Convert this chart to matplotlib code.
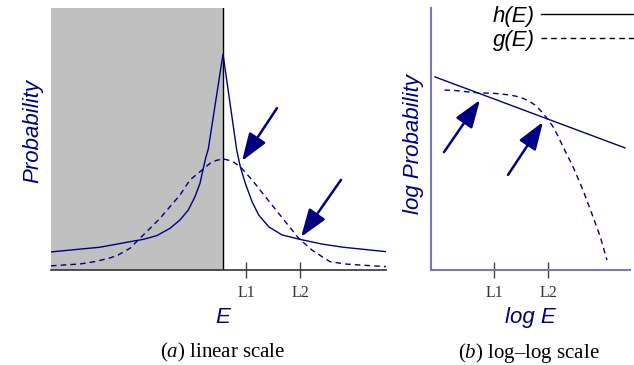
import matplotlib
matplotlib.use('Agg')
import matplotlib.pyplot as plt
from matplotlib.lines import Line2D

plt.rcParams['font.family'] = ['Liberation Sans', 'DejaVu Sans']
plt.rcParams['mathtext.fontset'] = 'custom'
plt.rcParams['mathtext.rm'] = 'Liberation Serif'
plt.rcParams['mathtext.it'] = 'Liberation Serif:italic'

# (a) linear scale: h(E) sharp peak, g(E) bell shape
E_h = [-3.44, -2.46, -1.86, -1.594, -1.326, -1.06, -0.86, -0.694, -0.56, -0.46, -0.394, -0.34,
       -0.294, 0.0, 0.274, 0.346, 0.446, 0.58, 0.714, 0.914, 1.18, 1.514, 1.98, 2.4, 3.26]
P_h = [0.069, 0.087, 0.108, 0.117, 0.131, 0.159, 0.191, 0.229, 0.280, 0.331, 0.388, 0.432,
       0.462, 0.824, 0.458, 0.394, 0.331, 0.261, 0.210, 0.165, 0.134, 0.118, 0.099, 0.087, 0.070]

E_g = [-3.44, -2.86, -2.56, -2.26, -2.10, -1.86, -1.66, -1.46, -1.26, -1.06, -0.86, -0.66, -0.46,
       -0.26, -0.14, 0.0, 0.18, 0.346, 0.58, 0.846, 1.114, 1.38, 1.514, 1.78, 1.98, 2.14, 2.44,
       2.74, 3.26]
P_g = [0.016, 0.023, 0.032, 0.046, 0.057, 0.083, 0.121, 0.159, 0.197, 0.242, 0.286, 0.344, 0.375,
       0.407, 0.418, 0.424, 0.416, 0.394, 0.344, 0.280, 0.216, 0.153, 0.121, 0.076, 0.051, 0.032,
       0.023, 0.019, 0.013]

# (b) log-log scale
logE_h = [0.08, 3.88]
logP_h = [0.737, 0.466]
logE_g = [0.27, 0.48, 0.78, 0.98, 1.28, 1.58, 1.78, 1.94, 2.08, 2.20, 2.32, 2.44, 2.54, 2.64,
          2.84, 3.04, 3.24, 3.38, 3.52]
logP_g = [0.687, 0.685, 0.679, 0.676, 0.674, 0.668, 0.660, 0.647, 0.630, 0.607, 0.579, 0.547,
          0.511, 0.471, 0.394, 0.305, 0.203, 0.130, 0.038]

ticks_a = [0.46, 1.54]
ticks_b = [1.26, 2.34]
tick_labels = ['L1', 'L2']

navy = '#000080'
dash = (0, (4, 3))

fig = plt.figure(figsize=(6.34, 3.65), dpi=100)
ax1 = fig.add_axes([51/634, 1-270/365, 335/634, 262/365])
ax2 = fig.add_axes([431/634, 1-270/365, 199/634, 262/365])

arrow = dict(arrowstyle='-|>,head_length=0.85,head_width=0.3', color=navy, lw=1.8,
             mutation_scale=20, shrinkA=0, shrinkB=0)

# panel a
ax1.axvspan(-3.44, 0, color='#c0c0c0', lw=0)
ax1.axvline(0, color='black', lw=1)
ax1.plot(E_h, P_h, color=navy, lw=1)
ax1.plot(E_g, P_g, color=navy, lw=1, linestyle=dash)
ax1.set_xlim(-3.44, 3.26)
ax1.set_ylim(0, 1)
ax1.annotate('', xy=(0.38, 0.416), xytext=(1.08, 0.618), arrowprops=arrow)
ax1.annotate('', xy=(1.56, 0.126), xytext=(2.36, 0.344), arrowprops=arrow)
for s in ['left', 'top', 'right']:
    ax1.spines[s].set_visible(False)
ax1.spines['bottom'].set_color('#333333')
ax1.spines['bottom'].set_linewidth(1.2)
ax1.set_yticks([])
ax1.set_xticks(ticks_a)
ax1.set_xticklabels(tick_labels, family='Liberation Serif', fontsize=11.5, color='#333333')
ax1.tick_params(axis='x', direction='inout', length=12, width=1, color='#444444', pad=5)
ax1.text(0.513, -0.18, 'E', transform=ax1.transAxes, ha='center', va='center',
         fontsize=16, style='italic', color=navy)
ax1.text(-0.054, 0.53, 'Probability', transform=ax1.transAxes, ha='center', va='center',
         rotation=90, fontsize=16, style='italic', color=navy)
ax1.text(0.513, -0.315, r'($\mathit{a}$) linear scale', transform=ax1.transAxes,
         ha='center', va='center', fontsize=15, family='Liberation Serif')

# panel b
ax2.plot(logE_h, logP_h, color=navy, lw=1)
ax2.plot(logE_g, logP_g, color=navy, lw=1, linestyle=dash)
ax2.set_xlim(0, 3.98)
ax2.set_ylim(0, 1)
ax2.annotate('', xy=(0.98, 0.649), xytext=(0.26, 0.450), arrowprops=arrow)
ax2.annotate('', xy=(2.24, 0.565), xytext=(1.54, 0.363), arrowprops=arrow)
for s in ['top', 'right']:
    ax2.spines[s].set_visible(False)
for s in ['left', 'bottom']:
    ax2.spines[s].set_color('#7777bb')
    ax2.spines[s].set_linewidth(1.5)
ax2.set_yticks([])
ax2.set_xticks(ticks_b)
ax2.set_xticklabels(tick_labels, family='Liberation Serif', fontsize=11.5, color='#333333')
ax2.tick_params(axis='x', direction='inout', length=12, width=1, color='#444444', pad=5)
ax2.text(0.497, -0.18, 'log E', transform=ax2.transAxes, ha='center', va='center',
         fontsize=16, style='italic', color=navy)
ax2.text(-0.09, 0.48, 'log Probability', transform=ax2.transAxes, ha='center', va='center',
         rotation=90, fontsize=16, style='italic', color=navy)
ax2.text(0.49, -0.315, '($\\mathit{b}$) log\u2013log scale', transform=ax2.transAxes,
         ha='center', va='center', fontsize=15, family='Liberation Serif')

# legend
handles = [Line2D([], [], color='black', lw=1),
           Line2D([], [], color='black', lw=1, linestyle=dash)]
fig.legend(handles, ['h(E)', 'g(E)'], loc='upper right', bbox_to_anchor=(1.0, 0.984),
           markerfirst=False, frameon=False, handlelength=4.2, handletextpad=0.25,
           labelspacing=0.15, borderpad=0.0, borderaxespad=0.0,
           prop={'family': 'Liberation Sans', 'style': 'italic', 'size': 16})

fig.savefig('out.png', dpi=100)
